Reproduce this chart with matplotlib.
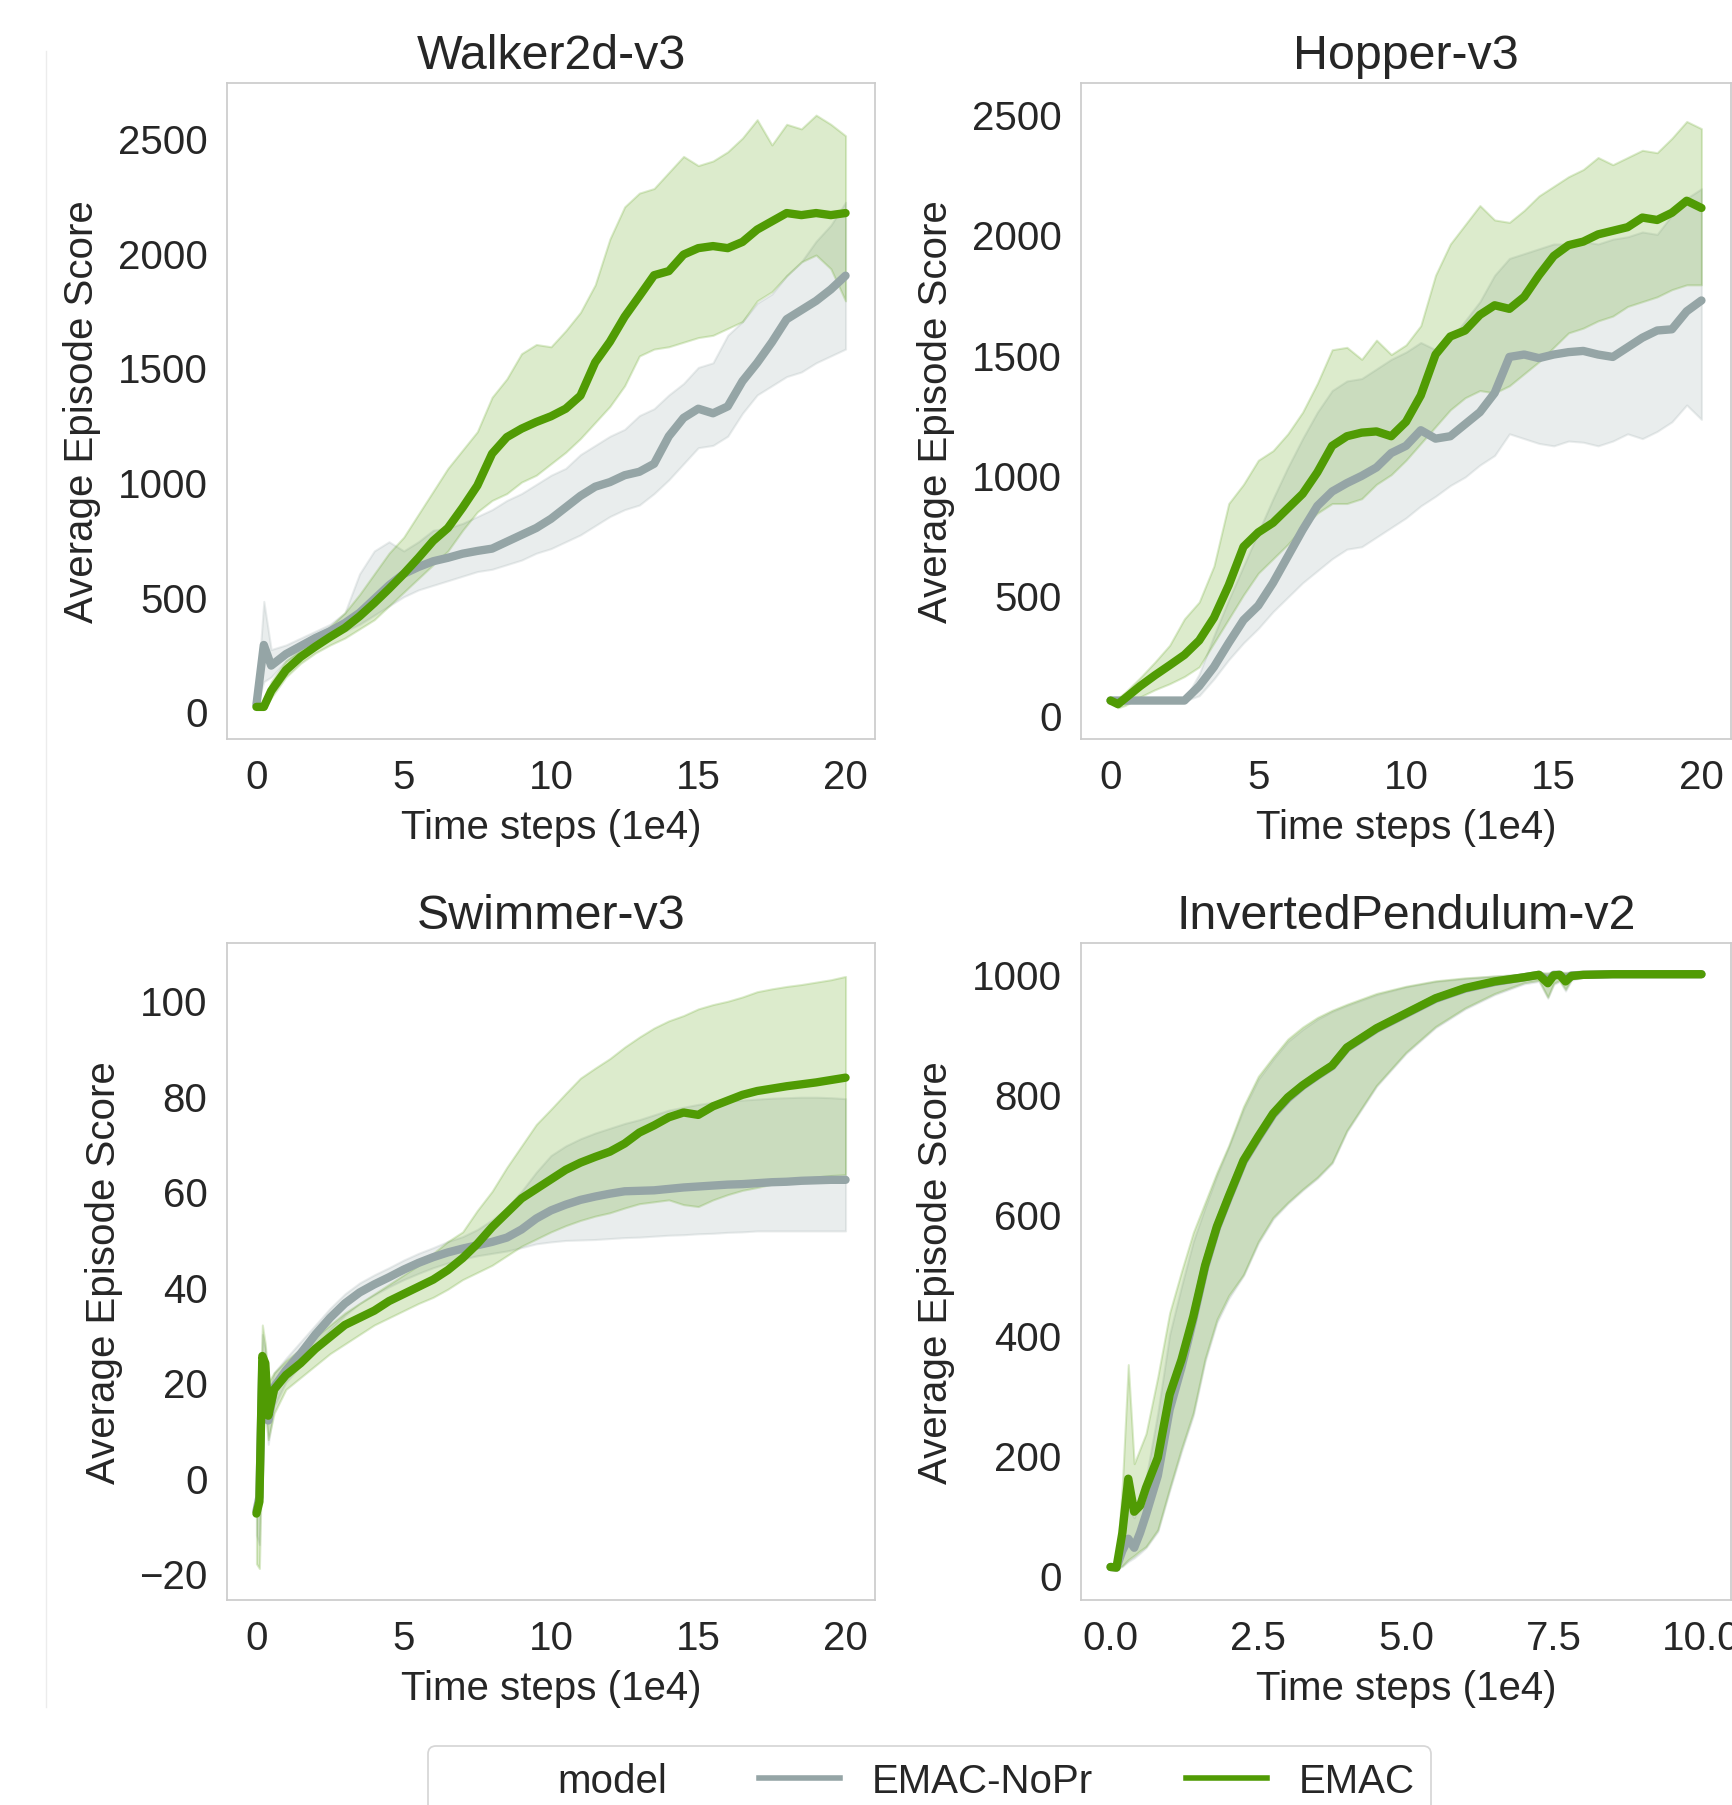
import matplotlib
matplotlib.use("Agg")
import matplotlib.pyplot as plt
from matplotlib.lines import Line2D

# ---------------- data ----------------
models = ["EMAC-NoPr", "EMAC"]

# Walker2d-v3
walker_t = [0, 0.25, 0.5, 1, 1.5, 2, 2.5, 3, 3.5, 4, 4.5, 5, 5.5, 6, 6.5, 7, 7.5, 8, 8.5, 9, 9.5,
            10, 10.5, 11, 11.5, 12, 12.5, 13, 13.5, 14, 14.5, 15, 15.5, 16, 16.5, 17, 17.5, 18, 18.5, 19, 19.5, 20]
walker_emac = [20, 20, 90, 180, 238, 283, 325, 364, 415, 473, 535, 600, 670, 744, 800, 889, 985, 1124, 1196, 1233,
               1262, 1287, 1320, 1377, 1522, 1612, 1721, 1811, 1902, 1920, 1992, 2020, 2029, 2020, 2047, 2101,
               2137, 2173, 2164, 2173, 2164, 2173]
walker_emac_hi = [30, 40, 130, 220, 270, 320, 370, 430, 510, 600, 690, 760, 860, 960, 1060, 1140, 1220, 1370, 1450,
                  1560, 1600, 1590, 1660, 1740, 1860, 2060, 2200, 2260, 2280, 2350, 2420, 2380, 2400, 2440, 2500,
                  2580, 2470, 2560, 2540, 2600, 2560, 2510]
walker_emac_lo = [10, 10, 60, 150, 210, 255, 290, 320, 360, 400, 460, 520, 580, 640, 700, 790, 870, 920, 950, 1000,
                  1030, 1080, 1130, 1190, 1260, 1330, 1420, 1550, 1580, 1590, 1610, 1630, 1640, 1670, 1700, 1790,
                  1830, 1900, 1960, 1990, 1930, 1790]
walker_nopr = [30, 290, 200, 250, 285, 320, 350, 385, 430, 490, 550, 600, 630, 655, 670, 688, 700, 710, 740, 770,
               800, 840, 890, 940, 980, 1000, 1030, 1045, 1080, 1200, 1280, 1320, 1300, 1330, 1440, 1520, 1610,
               1710, 1750, 1790, 1840, 1900]
walker_nopr_hi = [40, 480, 270, 290, 320, 350, 380, 430, 600, 700, 740, 700, 740, 790, 800, 820, 850, 880, 920, 950,
                  990, 1030, 1060, 1120, 1160, 1200, 1230, 1290, 1320, 1380, 1430, 1500, 1520, 1640, 1700, 1780,
                  1820, 1900, 1960, 2050, 2120, 2220]
walker_nopr_lo = [20, 130, 150, 220, 260, 290, 320, 350, 380, 420, 460, 500, 530, 550, 570, 590, 610, 620, 640, 660,
                  690, 710, 740, 770, 810, 850, 880, 900, 950, 1010, 1080, 1150, 1160, 1200, 1300, 1380, 1420,
                  1460, 1480, 1520, 1550, 1580]

# Hopper-v3
hopper_t = walker_t
hopper_emac = [60, 45, 70, 120, 165, 207, 250, 310, 405, 540, 700, 760, 800, 860, 920, 1010, 1120, 1160, 1175, 1180,
               1160, 1220, 1330, 1500, 1575, 1600, 1665, 1705, 1690, 1740, 1830, 1910, 1955, 1970, 2000, 2015,
               2030, 2070, 2060, 2090, 2140, 2110]
hopper_emac_hi = [65, 70, 95, 155, 220, 290, 400, 470, 620, 880, 960, 1060, 1100, 1170, 1260, 1380, 1520, 1530, 1480,
                  1560, 1500, 1540, 1620, 1830, 1960, 2040, 2120, 2060, 2050, 2100, 2160, 2200, 2240, 2270, 2320,
                  2290, 2320, 2350, 2340, 2400, 2470, 2440]
hopper_emac_lo = [55, 30, 40, 75, 105, 130, 160, 200, 300, 400, 500, 590, 650, 710, 780, 840, 880, 880, 900, 960,
                  1000, 1060, 1130, 1200, 1270, 1320, 1350, 1340, 1370, 1420, 1470, 1530, 1590, 1610, 1640, 1660,
                  1700, 1720, 1740, 1770, 1790, 1790]
hopper_nopr = [60, 60, 60, 60, 60, 60, 60, 120, 200, 300, 395, 455, 550, 660, 770, 870, 930, 965, 995, 1030, 1090,
               1120, 1185, 1150, 1160, 1210, 1260, 1340, 1490, 1500, 1485, 1500, 1510, 1515, 1500, 1490, 1530, 1570,
               1600, 1605, 1680, 1725]
hopper_nopr_hi = [62, 62, 62, 62, 62, 62, 62, 170, 330, 480, 620, 760, 900, 1030, 1150, 1260, 1350, 1390, 1400,
                  1440, 1480, 1510, 1550, 1520, 1560, 1640, 1720, 1830, 1900, 1920, 1940, 1960, 1960, 1970, 1960,
                  1980, 1990, 2010, 2000, 2080, 2150, 2190]
hopper_nopr_lo = [58, 58, 58, 58, 58, 58, 58, 80, 150, 230, 300, 360, 430, 490, 550, 600, 650, 690, 700, 740, 780,
                  820, 870, 910, 955, 990, 1040, 1080, 1170, 1150, 1130, 1120, 1140, 1135, 1120, 1140, 1170, 1150,
                  1180, 1220, 1290, 1230]

# Swimmer-v3
swim_t = [0, 0.1, 0.2, 0.3, 0.4, 0.6, 1, 1.5, 2, 2.5, 3, 3.5, 4, 4.5, 5, 5.5, 6, 6.5, 7, 7.5, 8, 8.5, 9, 9.5,
          10, 10.5, 11, 11.5, 12, 12.5, 13, 13.5, 14, 14.5, 15, 15.5, 16, 16.5, 17, 17.5, 18, 18.5, 19, 19.5, 20]
swim_emac = [-7.5, -5, 25.5, 24, 13, 18.5, 21.5, 24, 27, 29.5, 32, 33.5, 35, 37, 38.5, 40, 41.5, 43.5, 46, 49,
             52.5, 55.5, 58.5, 60.5, 62.5, 64.5, 66, 67.2, 68.3, 70, 72.3, 73.8, 75.5, 76.5, 76, 77.8, 79, 80.2,
             81, 81.5, 82, 82.4, 82.8, 83.3, 83.8]
swim_emac_hi = [-2, 10, 32, 28, 20, 22, 24.5, 27, 29.5, 32, 34.5, 36.5, 38.5, 40.5, 42.5, 44.5, 47, 49.5, 51.5, 56,
                60, 65, 69.5, 74, 77.2, 80.5, 83.7, 85.8, 87.8, 90.2, 92.3, 94.2, 95.7, 96.8, 98.2, 99.1, 99.8,
                100.7, 101.8, 102.4, 102.9, 103.3, 103.8, 104.3, 105]
swim_emac_lo = [-18, -19, 10, 14, 8, 13.5, 18.5, 21, 23.5, 26, 28, 30, 32, 33.5, 35, 36.5, 37.8, 39.5, 41.5, 43,
                44.5, 46.5, 48.5, 50, 51.5, 52.8, 53.9, 54.8, 55.5, 56.5, 57.4, 57.8, 58.2, 57.2, 56.8, 58.2, 59.3,
                60.2, 60.8, 61.5, 62.1, 62.6, 63, 63.3, 63.5]
swim_nopr = [-7, -4, 24, 22, 12, 19, 22.5, 26, 30, 33.5, 36.5, 38.8, 40.5, 42, 43.6, 45, 46.2, 47.2, 48, 48.7,
             49.4, 50.3, 52, 54.3, 56, 57.2, 58.2, 58.9, 59.5, 60, 60.1, 60.2, 60.5, 60.8, 61, 61.2, 61.4, 61.5,
             61.7, 61.9, 62, 62.2, 62.3, 62.4, 62.4]
swim_nopr_hi = [-3, 5, 30, 27, 18, 22, 25, 28.5, 32, 35.5, 38.5, 40.8, 42.5, 44, 45.6, 47, 48.2, 49.5, 50.5, 52,
                54, 56.5, 60, 64, 67.5, 69.5, 71, 72.2, 73.2, 74.2, 75, 76, 77, 77.6, 78.2, 78.6, 78.9, 79.1,
                79.3, 79.5, 79.6, 79.7, 79.7, 79.6, 79.4]
swim_nopr_lo = [-12, -14, 15, 16, 7, 15, 20, 23.5, 27.5, 31, 34, 36.5, 38.3, 40, 41.5, 42.8, 44, 45, 45.8, 46.5,
                47, 47.5, 48.2, 49, 49.4, 49.7, 49.8, 49.9, 50.1, 50.3, 50.4, 50.6, 50.8, 50.9, 51.1, 51.2, 51.4,
                51.5, 51.7, 51.7, 51.7, 51.7, 51.7, 51.7, 51.7]

# InvertedPendulum-v2
ip_t = [0, 0.1, 0.2, 0.3, 0.4, 0.5, 0.6, 0.8, 1.0, 1.2, 1.4, 1.6, 1.8, 2.0, 2.25, 2.5, 2.75, 3.0, 3.25, 3.5,
        3.75, 4.0, 4.5, 5.0, 5.5, 6.0, 6.5, 7.0, 7.25, 7.4, 7.5, 7.6, 7.7, 7.8, 8.0, 8.5, 9.0, 9.5, 10.0]
ip_emac = [13, 12, 70, 160, 105, 115, 145, 195, 300, 358, 430, 515, 580, 630, 690, 730, 768, 795, 815, 832, 848,
           878, 910, 935, 960, 977, 988, 995, 999, 985, 998, 999, 988, 997, 999, 1000, 1000, 1000, 1000]
ip_emac_hi = [15, 14, 150, 350, 185, 210, 235, 330, 436, 505, 570, 620, 670, 715, 780, 830, 862, 892, 912, 928,
              940, 950, 968, 980, 989, 994, 997, 1000, 1002, 1002, 1003, 1003, 1003, 1003, 1003, 1002, 1002, 1002,
              1002]
ip_emac_lo = [11, 10, 15, 25, 32, 40, 47, 75, 144, 210, 270, 360, 425, 465, 500, 555, 595, 620, 642, 662, 687,
              740, 815, 870, 913, 944, 968, 986, 990, 962, 985, 990, 975, 992, 996, 998, 999, 999, 999]
ip_nopr = [13, 12, 40, 60, 45, 70, 100, 165, 275, 345, 425, 512, 578, 628, 688, 728, 766, 793, 814, 831, 847, 877,
           909, 934, 959, 976, 987, 995, 999, 990, 999, 999, 992, 998, 999, 1000, 1000, 1000, 1000]
ip_nopr_hi = [14, 13, 60, 110, 95, 120, 160, 270, 400, 480, 555, 612, 665, 712, 775, 825, 858, 888, 908, 925, 938,
              948, 966, 979, 988, 993, 997, 1000, 1002, 1002, 1003, 1003, 1003, 1003, 1003, 1002, 1002, 1002, 1002]
ip_nopr_lo = [11, 10, 14, 22, 28, 36, 45, 72, 140, 205, 265, 355, 420, 460, 498, 552, 592, 618, 640, 660, 685, 738,
              813, 868, 911, 942, 966, 984, 988, 960, 983, 988, 972, 990, 995, 997, 998, 998, 998]

titles = ["Walker2d-v3", "Hopper-v3", "Swimmer-v3", "InvertedPendulum-v2"]
xticks_20 = [0, 5, 10, 15, 20]
xticks_10 = [0.0, 2.5, 5.0, 7.5, 10.0]
xticklabels_10 = ["0.0", "2.5", "5.0", "7.5", "10.0"]

# ---------------- style ----------------
plt.rcParams.update({
    "font.family": ["Liberation Sans", "DejaVu Sans"],
    "font.size": 29,
    "text.color": ".15",
    "axes.labelcolor": ".15",
    "xtick.color": ".15",
    "ytick.color": ".15",
    "axes.edgecolor": ".8",
    "axes.linewidth": 1.25,
})

C_NOPR = "#95a5a6"
C_EMAC = "#509b04"
LW = 6

W, H = 1733, 1806
fig = plt.figure(figsize=(W / 100, H / 100), dpi=100)


def axes_px(x0, y0, x1, y1):
    return fig.add_axes([x0 / W, 1 - y1 / H, (x1 - x0) / W, (y1 - y0) / H])


panels = [
    (axes_px(227, 84, 875, 740), walker_t,
     (walker_nopr, walker_nopr_lo, walker_nopr_hi), (walker_emac, walker_emac_lo, walker_emac_hi),
     (-1, 21), (-120, 2740), xticks_20, None, [0, 500, 1000, 1500, 2000, 2500]),
    (axes_px(1081, 84, 1731, 740), hopper_t,
     (hopper_nopr, hopper_nopr_lo, hopper_nopr_hi), (hopper_emac, hopper_emac_lo, hopper_emac_hi),
     (-1, 21), (-100, 2630), xticks_20, None, [0, 500, 1000, 1500, 2000, 2500]),
    (axes_px(227, 944, 875, 1601), swim_t,
     (swim_nopr, swim_nopr_lo, swim_nopr_hi), (swim_emac, swim_emac_lo, swim_emac_hi),
     (-1, 21), (-25.6, 112), xticks_20, None, [-20, 0, 20, 40, 60, 80, 100]),
    (axes_px(1081, 944, 1731, 1601), ip_t,
     (ip_nopr, ip_nopr_lo, ip_nopr_hi), (ip_emac, ip_emac_lo, ip_emac_hi),
     (-0.5, 10.5), (-42, 1052), xticks_10, xticklabels_10, [0, 200, 400, 600, 800, 1000]),
]

for (ax, t, nopr, emac, xlim, ylim, xt, xtl, yt), title in zip(panels, titles):
    for (m, lo, hi), col in ((nopr, C_NOPR), (emac, C_EMAC)):
        ax.fill_between(t, lo, hi, color=col, alpha=0.2, linewidth=1.5)
    for (m, lo, hi), col in ((nopr, C_NOPR), (emac, C_EMAC)):
        ax.plot(t, m, color=col, lw=LW, solid_capstyle="round", solid_joinstyle="round")
    ax.set_xlim(*xlim)
    ax.set_ylim(*ylim)
    ax.set_xticks(xt)
    if xtl is not None:
        ax.set_xticklabels(xtl)
    ax.set_yticks(yt)
    ax.tick_params(length=0, pad=14)
    ax.set_title(title, pad=11)
    ax.set_xlabel("Time steps (1e4)", labelpad=8)
    ax.set_ylabel("Average Episode Score", labelpad=12)
    ax.grid(False)

# faint vertical rule at the left edge
fig.add_artist(Line2D([46 / W, 46 / W], [1 - 52 / H, 1 - 1708 / H], color="#ececec", lw=1))

handles = [Line2D([], [], color="none"),
           Line2D([], [], color=C_NOPR, lw=4),
           Line2D([], [], color=C_EMAC, lw=4)]
labels = ["model"] + models
leg = fig.legend(handles, labels, loc="upper left", bbox_to_anchor=(428 / W, 1 - 1747 / H),
                 borderaxespad=0, ncol=3, frameon=True, fancybox=True, fontsize=29,
                 columnspacing=2.3)
leg.get_frame().set_edgecolor(".8")
leg.get_frame().set_linewidth(1.25)

fig.savefig("out.png", dpi=100)
